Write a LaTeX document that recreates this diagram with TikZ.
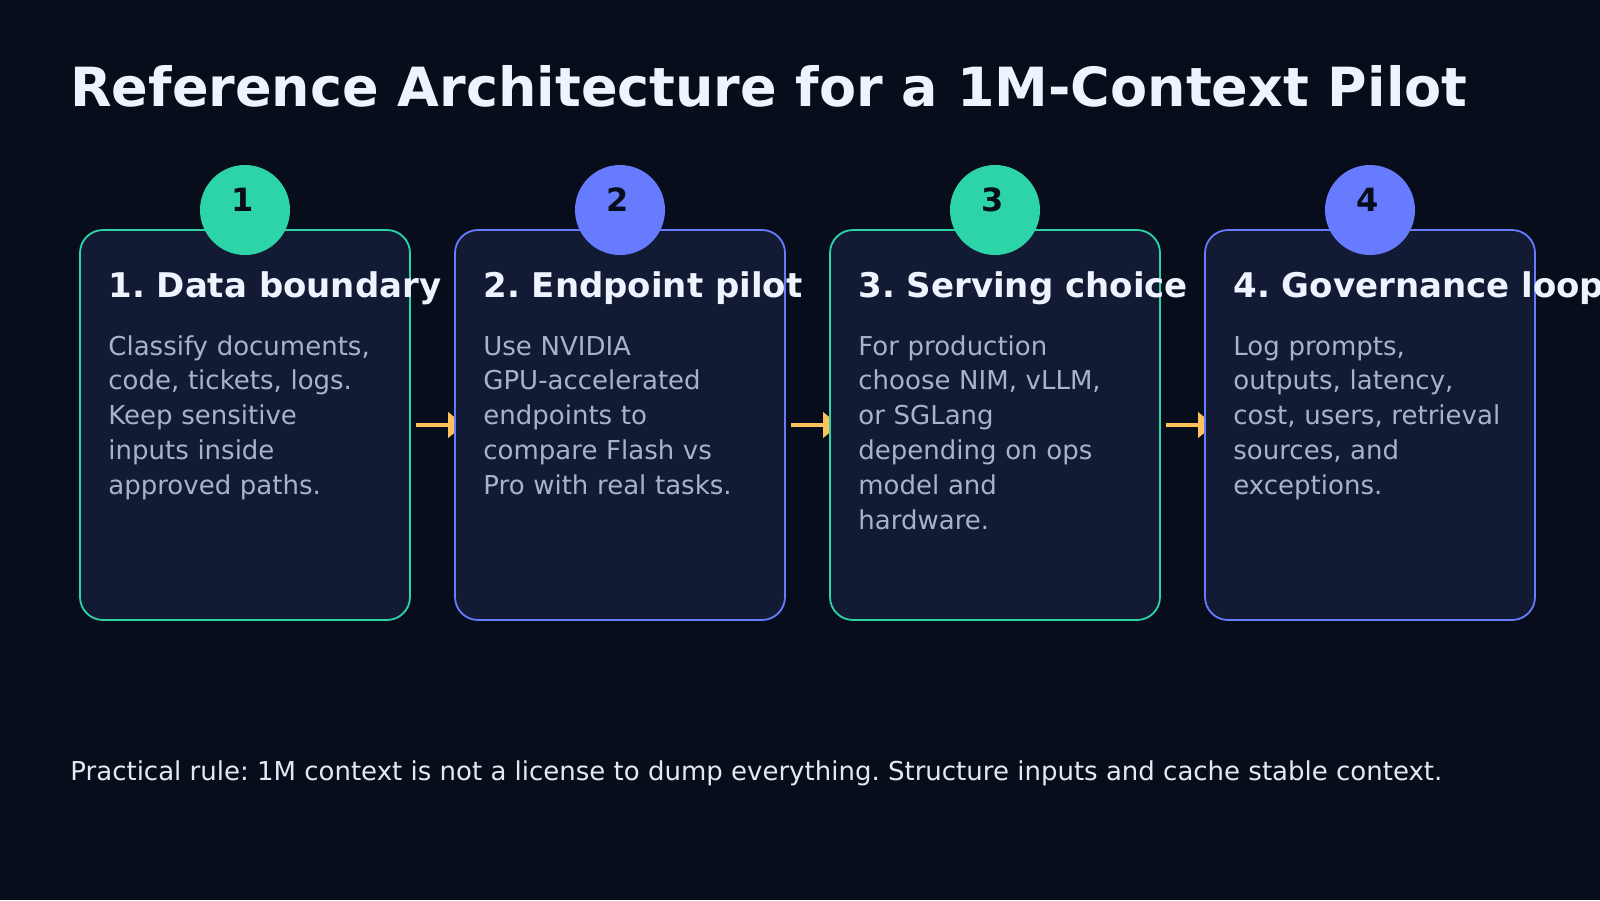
\documentclass[tikz,border=0pt]{standalone}
\usepackage{fontspec}
\setmainfont{DejaVu Sans}
\usetikzlibrary{arrows.meta}
\frenchspacing

\definecolor{bgdark}{HTML}{070D1A}
\definecolor{cardfill}{HTML}{121B33}
\definecolor{accgreen}{HTML}{2DD4A7}
\definecolor{accblue}{HTML}{677BFF}
\definecolor{arrowgold}{HTML}{FFC15A}
\definecolor{headtext}{HTML}{EEF4FF}
\definecolor{bodytext}{HTML}{A8B3C8}
\definecolor{foottext}{HTML}{E4EAF4}

\pgfdeclarelayer{backdrop}
\pgfdeclarelayer{links}
\pgfsetlayers{backdrop,links,main}

\tikzset{
  card/.style={draw=#1, fill=cardfill, line width=0.9pt, rounded corners=11.5pt,
    minimum width=165pt, minimum height=195pt, inner sep=0pt},
  badge/.style={circle, fill=#1, minimum size=45pt, inner sep=0pt},
  badgenum/.style={anchor=base, inner sep=0pt, text=bgdark,
    font=\fontsize{16}{16}\selectfont\bfseries},
  cardtitle/.style={anchor=base west, inner sep=0pt, text=headtext,
    font=\fontsize{17}{20}\selectfont\bfseries},
  cardbody/.style={anchor=base west, inner sep=0pt, text=bodytext,
    text width=150pt, align=left, font=\fontsize{13}{17.45}\selectfont},
  flow/.style={draw=arrowgold, line width=2.2pt,
    -{Triangle[length=8pt,width=12.5pt]}, shorten <=2.5pt, shorten >=-5pt}
}

\begin{document}
\begin{tikzpicture}[x=0.5pt,y=-0.5pt]
\useasboundingbox (0,0) rectangle (1600,900);
\begin{pgfonlayer}{backdrop}
\fill[bgdark] (0,0) rectangle (1600,900);
\end{pgfonlayer}

\node[anchor=base west, inner sep=0pt, text=headtext, font=\fontsize{27}{30}\selectfont\bfseries]
  (title) at (70,106) {Reference Architecture for a 1M-Context Pilot};

\node[card=accgreen] (b1) at (245,425) {};
\node[card=accblue] (b2) at (620,425) {};
\node[card=accgreen] (b3) at (995,425) {};
\node[card=accblue] (b4) at (1370,425) {};

\node[badge=accgreen] (c1) at (245,210) {};
\node[badge=accblue] (c2) at (620,210) {};
\node[badge=accgreen] (c3) at (995,210) {};
\node[badge=accblue] (c4) at (1370,210) {};
\node[badgenum] (n1) at ([xshift=-1.2pt,yshift=-0.6pt]c1.center) {1};
\node[badgenum] (n2) at ([xshift=-1.2pt,yshift=-0.6pt]c2.center) {2};
\node[badgenum] (n3) at ([xshift=-1.2pt,yshift=-0.6pt]c3.center) {3};
\node[badgenum] (n4) at ([xshift=-1.2pt,yshift=-0.6pt]c4.center) {4};

\node[cardtitle] (h1) at (108,297) {1. Data boundary};
\node[cardtitle] (h2) at (483,297) {2. Endpoint pilot};
\node[cardtitle] (h3) at (858,297) {3. Serving choice};
\node[cardtitle] (h4) at (1233,297) {4. Governance loop};

\node[cardbody] (t1) at (108,355) {Classify documents,\\code, tickets, logs.\\Keep sensitive\\inputs inside\\approved paths.};
\node[cardbody] (t2) at (483,355) {Use NVIDIA\\GPU-accelerated\\endpoints to\\compare Flash vs\\Pro with real tasks.};
\node[cardbody] (t3) at (858,355) {For production\\choose NIM, vLLM,\\or SGLang\\depending on ops\\model and\\hardware.};
\node[cardbody] (t4) at (1233,355) {Log prompts,\\outputs, latency,\\cost, users, retrieval\\sources, and\\exceptions.};

\begin{pgfonlayer}{links}
\draw[flow] (b1.east) -- (b2.west);
\draw[flow] (b2.east) -- (b3.west);
\draw[flow] (b3.east) -- (b4.west);
\end{pgfonlayer}

\node[anchor=base west, inner sep=0pt, text=foottext, font=\fontsize{13}{16}\selectfont]
  (rule) at (70,780) {Practical rule: 1M context is not a license to dump everything. Structure inputs and cache stable context.};
\end{tikzpicture}
\end{document}
